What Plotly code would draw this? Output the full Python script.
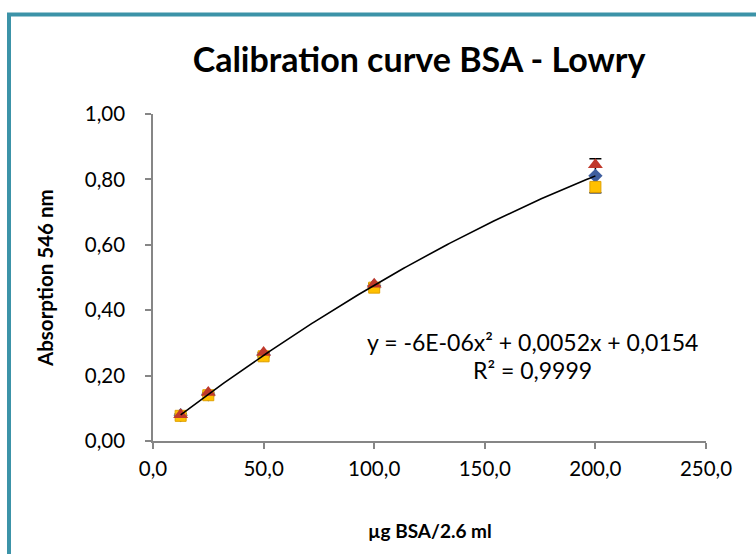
import numpy as np
import plotly.graph_objects as go

conc = [12.5, 25, 50, 100, 200]
mean_abs = [0.079, 0.143, 0.264, 0.475, 0.811]
mean_err = [0.004, 0.005, 0.006, 0.006, 0.052]
rep_a = [0.080, 0.148, 0.271, 0.479, 0.845]
rep_b = [0.077, 0.140, 0.259, 0.469, 0.777]

x_ticks = [0, 50, 100, 150, 200, 250]
y_ticks = [0, 0.2, 0.4, 0.6, 0.8, 1.0]

coef = np.polyfit(conc, mean_abs, 2)
xf = np.linspace(min(conc), max(conc), 200)
yf = np.polyval(coef, xf)

FONT = "Lato"
fig = go.Figure()
fig.add_trace(go.Scatter(
    x=conc, y=mean_abs, mode="markers",
    marker=dict(symbol="diamond", size=11, color="#3F5F9F"),
    error_y=dict(type="data", array=mean_err, color="black", thickness=1.5, width=6),
))
fig.add_trace(go.Scatter(
    x=conc, y=rep_b, mode="markers",
    marker=dict(symbol="square", size=11, color="#FFC000", line=dict(color="#E0A000", width=1)),
))
fig.add_trace(go.Scatter(
    x=conc, y=rep_a, mode="markers",
    marker=dict(symbol="triangle-up", size=13, color="#C0392B"),
))
fig.add_trace(go.Scatter(x=xf, y=yf, mode="lines", line=dict(color="black", width=1.6)))

axis_common = dict(
    showline=True, linecolor="#868686", linewidth=1.5, ticks="outside",
    tickcolor="#868686", ticklen=6, tickwidth=1.5, showgrid=False, zeroline=False,
    tickfont=dict(family=FONT, size=20.5, color="black"),
)
fig.update_xaxes(range=[0, 250], tickvals=x_ticks, tickformat=".1f", ticklabelstandoff=3,
                 **axis_common)
fig.update_yaxes(range=[0, 1.0], tickvals=y_ticks, tickformat=".2f", ticklabelstandoff=16,
                 **axis_common)

def px_x(p):
    return (p - 153) / 553
def px_y(p):
    return (441 - p) / 327

fig.add_shape(type="rect", xref="paper", yref="paper",
              x0=px_x(9), x1=2, y0=-1, y1=px_y(14.5),
              line=dict(color="#3C93A8", width=4), layer="above")

fig.add_annotation(x=px_x(532), y=px_y(342), xref="paper", yref="paper", xanchor="center", yanchor="middle",
                   text="y = -6E-06x² + 0,0052x + 0,0154", showarrow=False,
                   font=dict(family=FONT, size=23, color="black"))
fig.add_annotation(x=px_x(532), y=px_y(370), xref="paper", yref="paper", xanchor="center", yanchor="middle",
                   text="R² = 0,9999", showarrow=False,
                   font=dict(family=FONT, size=23, color="black"))
fig.add_annotation(x=px_x(430), y=px_y(530), xref="paper", yref="paper", xanchor="center", yanchor="middle",
                   text="<b>µg BSA/2.6 ml</b>", showarrow=False,
                   font=dict(family=FONT, size=19, color="black"))
fig.add_annotation(x=px_x(45), y=px_y(278), xref="paper", yref="paper", xanchor="center", yanchor="middle",
                   text="<b>Absorption 546 nm</b>", showarrow=False, textangle=-90,
                   font=dict(family=FONT, size=20.5, color="black"))

fig.update_layout(
    width=756, height=554, separators=",.",
    margin=dict(l=153, r=50, t=114, b=113),
    paper_bgcolor="white", plot_bgcolor="white", showlegend=False,
    title=dict(text="<b>Calibration curve BSA - Lowry</b>", x=419 / 756, xanchor="center",
               y=1 - 60 / 554, yanchor="middle", font=dict(family=FONT, size=34, color="black")),
)
fig.write_html("out.html")
